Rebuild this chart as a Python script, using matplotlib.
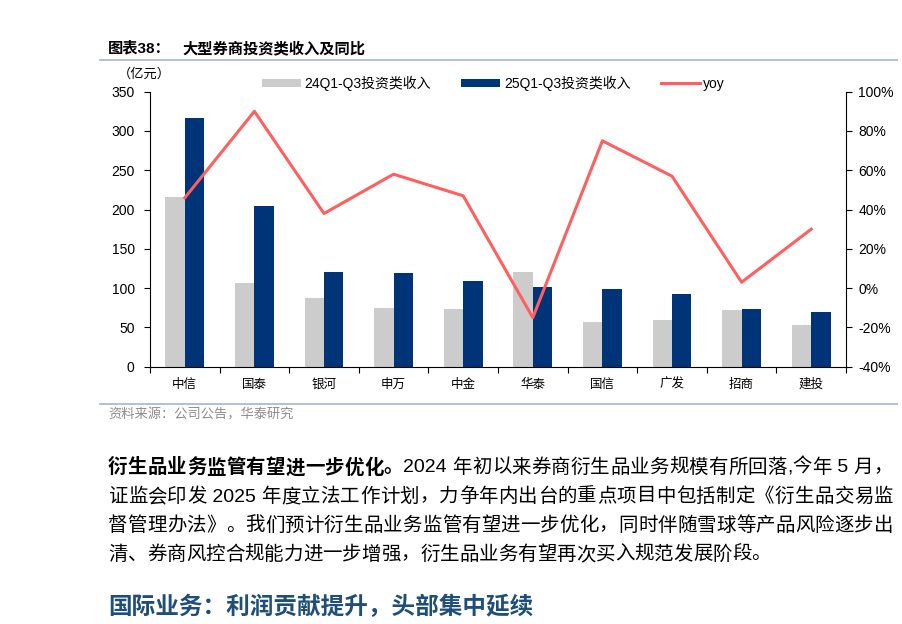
import matplotlib
matplotlib.use('Agg')
import numpy as np
import matplotlib.pyplot as plt
from matplotlib.lines import Line2D

# 数据（亿元）
brokers = ['中信', '国泰', '银河', '申万', '中金', '华泰', '国信', '广发', '招商', '建投']
inv_24 = [216, 107, 87, 75, 74, 121, 57, 60, 72, 53]
inv_25 = [316, 204, 120, 119, 109, 102, 99, 93, 74, 69]
yoy = [46, 90, 38, 58, 47, -15, 75, 57, 3, 30]
yticks_left = [0, 50, 100, 150, 200, 250, 300, 350]
yticks_right = [-40, -20, 0, 20, 40, 60, 80, 100]

W, H = 903, 624
LAT = ['Liberation Sans', 'Noto Sans CJK SC']
CJK = ['Noto Sans CJK SC', 'DejaVu Sans']
GRAY = '#CCCCCC'
NAVY = '#003478'
RED = '#FF5F5F'
RULE = '#A8BCD4'

plt.rcParams['font.family'] = LAT
plt.rcParams['axes.linewidth'] = 0.8

fig = plt.figure(figsize=(W / 100, H / 100), dpi=100)


def fx(px):
    return px / W


def fy(py):
    return 1 - py / H


# 标题
fig.text(fx(108), fy(48), '图表38：', fontsize=11, fontweight='bold', va='center', family=LAT)
fig.text(fx(182), fy(48), '大型券商投资类收入及同比', fontsize=11, fontweight='bold', va='center', family=CJK)
fig.add_artist(Line2D([fx(100), fx(897)], [fy(59.5), fy(59.5)], color=RULE, lw=1.3))

# 主图
ax = fig.add_axes([fx(150), fy(366.7), fx(846) - fx(150), fy(91.7) - fy(366.7)])
x = np.arange(len(brokers))
w = 0.28
ax.bar(x - w / 2, inv_24, w, color=GRAY, label='24Q1-Q3投资类收入')
ax.bar(x + w / 2, inv_25, w, color=NAVY, label='25Q1-Q3投资类收入')
ax.set_xlim(-0.5, len(brokers) - 0.5)
ax.set_ylim(0, 350)
ax.set_yticks(yticks_left)
ax.set_xticks(x)
ax.set_xticklabels(brokers, family=CJK, fontsize=9)
ax.set_xticks(np.arange(-0.5, len(brokers)), minor=True)
ax.tick_params(axis='x', which='major', length=0, pad=8)
ax.tick_params(axis='x', which='minor', length=4, width=0.8, direction='out')
ax.tick_params(axis='y', length=4, width=0.8, direction='out', labelsize=10, pad=7)
for s in ['top', 'right']:
    ax.spines[s].set_visible(False)

ax2 = ax.twinx()
ax2.plot(x, yoy, color=RED, lw=2.2, label='yoy')
ax2.set_ylim(-40, 100)
ax2.set_yticks(yticks_right)
ax2.set_yticklabels([f'{v}%' for v in yticks_right])
ax2.tick_params(axis='y', length=4, width=0.8, direction='out', labelsize=10, pad=5)
for s in ['top', 'left', 'bottom']:
    ax2.spines[s].set_visible(False)

h1, l1 = ax.get_legend_handles_labels()
h2, l2 = ax2.get_legend_handles_labels()
ax.legend(h1 + h2, l1 + l2, ncol=3, frameon=False, loc='center left',
          bbox_to_anchor=(fx(262 - 150) / fx(696), 1.032), borderaxespad=0, borderpad=0,
          handlelength=2.8, handleheight=0.5, handletextpad=0.25, columnspacing=2.2,
          prop={'family': LAT, 'size': 10})

fig.text(fx(118), fy(74), '（亿元）', fontsize=9.5, va='center', family=CJK)

# 资料来源
fig.add_artist(Line2D([fx(100), fx(897)], [fy(403.5), fy(403.5)], color=RULE, lw=1.3))
fig.text(fx(108), fy(415), '资料来源：公司公告，华泰研究', fontsize=9.5, color='#8C8C8C', va='center', family=CJK)

# 正文
renderer = fig.canvas.get_renderer()


def tokens(s):
    out = []
    buf = ''
    for c in s:
        if ord(c) < 128:
            buf += c
        else:
            if buf:
                out.append(buf)
                buf = ''
            out.append(c)
    if buf:
        out.append(buf)
    return out


def text_line(y, parts, x0=108, x1=893, justify=True, size=14):
    items = []
    for s, weight in parts:
        for t in tokens(s):
            tt = fig.text(0, fy(y), t, fontsize=size, fontweight=weight, va='center', family=LAT)
            items.append((tt, tt.get_window_extent(renderer).width))
    total = sum(wd for _, wd in items)
    gap = (x1 - x0 - total) / (len(items) - 1) if justify else 0
    pos = x0
    for tt, wd in items:
        tt.set_x(fx(pos))
        pos += wd + gap


text_line(468, [('衍生品业务监管有望进一步优化。', 'bold'),
                ('2024 年初以来券商衍生品业务规模有所回落,今年 5 月，', 'normal')])
text_line(497, [('证监会印发 2025 年度立法工作计划，力争年内出台的重点项目中包括制定《衍生品交易监', 'normal')])
text_line(526, [('督管理办法》。我们预计衍生品业务监管有望进一步优化，同时伴随雪球等产品风险逐步出', 'normal')])
text_line(555, [('清、券商风控合规能力进一步增强，衍生品业务有望再次买入规范发展阶段。', 'normal')], justify=False)

fig.text(fx(108), fy(607), '国际业务：利润贡献提升，头部集中延续', fontsize=17, fontweight='bold',
         color='#1F4E79', va='center', family=CJK)

fig.savefig('out.png', dpi=100)
